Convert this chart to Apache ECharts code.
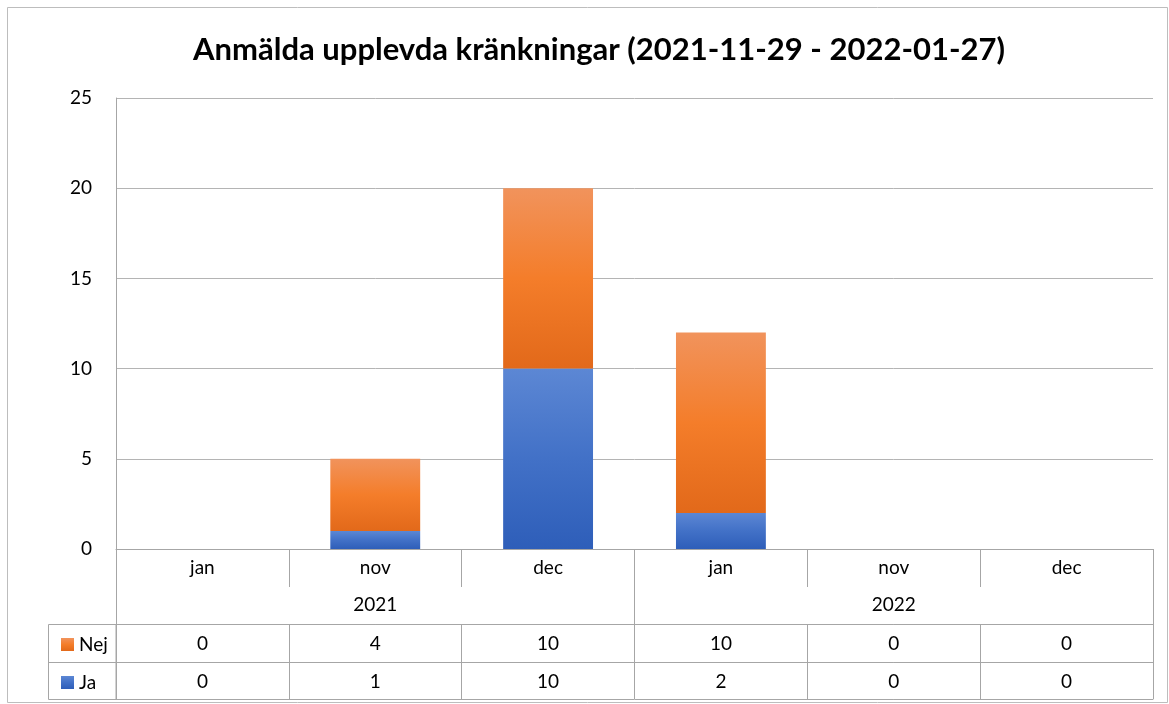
<!DOCTYPE html>
<html>
<head>
<meta charset="utf-8">
<script src="https://cdn.jsdelivr.net/npm/echarts@6/dist/echarts.min.js"></script>
<style>html,body{margin:0;padding:0;background:#fff;}#c{width:1169px;height:704px;}</style>
</head>
<body>
<div id="c"></div>
<script>
const titleText = 'Anmälda upplevda kränkningar (2021-11-29 - 2022-01-27)';
const months = ['jan', 'nov', 'dec', 'jan', 'nov', 'dec'];
const years = ['2021', '2022'];
const nejValues = [0, 4, 10, 10, 0, 0];
const jaValues = [0, 1, 10, 2, 0, 0];
const yTicks = { min: 0, max: 25, interval: 5 };

const FONT = 'Lato, "Noto Sans", sans-serif';
const GRID_C = '#b4b4b4';
const TABLE_C = '#a6a6a6';
const TXT = '#000';

const orange = new echarts.graphic.LinearGradient(0, 0, 0, 1, [
  { offset: 0, color: '#f1935c' },
  { offset: 0.5, color: '#f47d2a' },
  { offset: 1, color: '#e2691a' }
]);
const blue = new echarts.graphic.LinearGradient(0, 0, 0, 1, [
  { offset: 0, color: '#5c87d4' },
  { offset: 0.5, color: '#4271c7' },
  { offset: 1, color: '#2e5eb9' }
]);

function tableAxis(data, offset, tickLen, showLine, margin) {
  return {
    type: 'category', gridIndex: 0, position: 'bottom', offset: offset,
    data: data,
    axisLine: { show: showLine, lineStyle: { color: TABLE_C, width: 1 } },
    axisTick: { show: tickLen > 0, length: tickLen, interval: 0, lineStyle: { color: TABLE_C } },
    axisLabel: { show: margin != null, interval: 0, margin: margin || 0, verticalAlign: 'middle',
      color: TXT, fontFamily: FONT, fontSize: 19 },
    splitLine: { show: false }
  };
}

const chart = echarts.init(document.getElementById('c'), null, { renderer: 'canvas' });
chart.setOption({
  animation: false,
  backgroundColor: '#fff',
  title: {
    text: titleText, left: 594, textAlign: 'center', top: 29,
    textStyle: { fontFamily: FONT, fontWeight: 'bold', fontSize: 31, color: TXT }
  },
  legend: [
    { data: ['Nej'], orient: 'vertical', left: 56, top: 630, itemWidth: 13, itemHeight: 13, itemGap: 0,
      icon: 'rect', textStyle: { fontFamily: FONT, fontSize: 19, color: TXT }, selectedMode: false },
    { data: ['Ja'], orient: 'vertical', left: 56, top: 668, itemWidth: 13, itemHeight: 13, itemGap: 0,
      icon: 'rect', textStyle: { fontFamily: FONT, fontSize: 19, color: TXT }, selectedMode: false }
  ],
  grid: { left: 116, right: 16, top: 98, bottom: 155, containLabel: false },
  xAxis: [
    tableAxis(months, 0, 38, true, 19),
    tableAxis(years, 38, 37, false, 18),
    tableAxis(nejValues.map(String), 75, 38, true, 20),
    tableAxis(jaValues.map(String), 113, 37, true, 20),
    tableAxis(months, 150, 0, true, null)
  ],
  yAxis: {
    type: 'value', min: yTicks.min, max: yTicks.max, interval: yTicks.interval,
    axisLine: { show: true, lineStyle: { color: TABLE_C } },
    axisTick: { show: false },
    axisLabel: { margin: 24, color: TXT, fontFamily: FONT, fontSize: 19 },
    splitLine: { show: true, lineStyle: { color: GRID_C, width: 1 } }
  },
  series: [
    { name: 'Ja', type: 'bar', stack: 'tot', xAxisIndex: 0, data: jaValues, barWidth: '52%',
      itemStyle: { color: blue } },
    { name: 'Nej', type: 'bar', stack: 'tot', xAxisIndex: 0, data: nejValues, barWidth: '52%',
      itemStyle: { color: orange } }
  ],
  graphic: [
    { type: 'rect', shape: { x: 7.5, y: 7.5, width: 1160, height: 695 }, silent: true,
      style: { fill: 'none', stroke: '#bdbdbd', lineWidth: 1 } },
    { type: 'rect', shape: { x: 48.5, y: 624.5, width: 67.5, height: 75 }, silent: true,
      style: { fill: 'none', stroke: TABLE_C, lineWidth: 1 } },
    { type: 'line', shape: { x1: 48.5, y1: 662.5, x2: 116, y2: 662.5 }, silent: true,
      style: { stroke: TABLE_C, lineWidth: 1 } }
  ]
});
</script>
</body>
</html>
